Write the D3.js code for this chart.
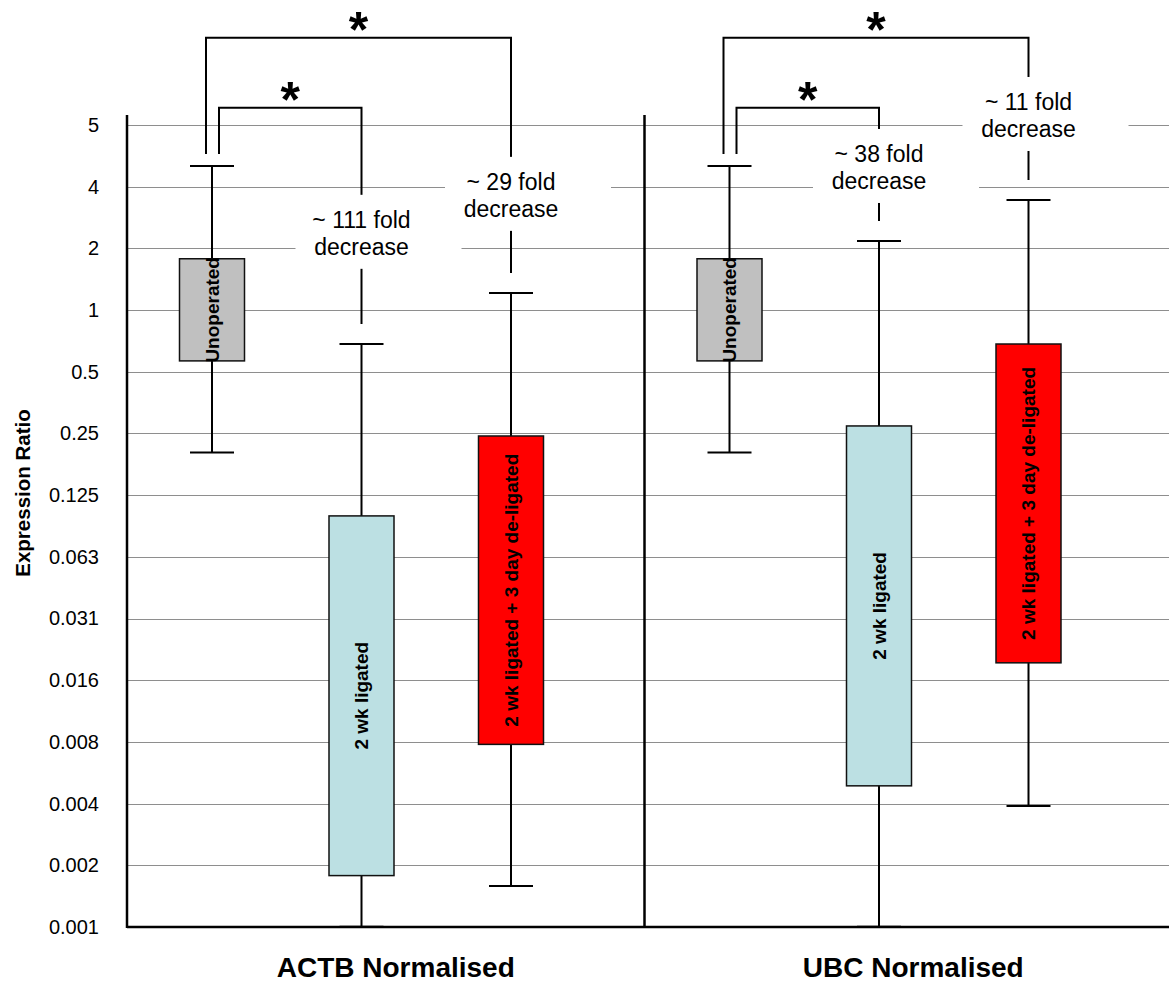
<!DOCTYPE html>
<html lang="en">
<head>
<meta charset="UTF-8">
<title>Expression Ratio - ACTB / UBC normalised</title>
<style>
body { margin: 0; background: #fff; }
svg text { font-family: "Liberation Sans", Arial, Helvetica, sans-serif; }
.grid line { stroke: #8e8e8e; stroke-width: 1; }
</style>
</head>
<body>
<svg id="chart"></svg>
<script src="https://cdn.jsdelivr.net/npm/d3@7/dist/d3.min.js"></script>
<script>
var panels = ["ACTB Normalised", "UBC Normalised"];
var groups = ["Unoperated", "2 wk ligated", "2 wk ligated + 3 day de-ligated"];
var groupColors = ["#c0c0c0", "#bce0e3", "#ff0000"];

// whisker ends and box edges
var actbMin  = [0.202, 0.00098, 0.00155];
var actbLow  = [0.565, 0.00174, 0.0076];
var actbHigh = [1.78, 0.099, 0.243];
var actbMax  = [5.05, 0.683, 1.21];

var ubcMin  = [0.202, 0.00098, 0.0038];
var ubcLow  = [0.565, 0.00477, 0.019];
var ubcHigh = [1.78, 0.272, 0.683];
var ubcMax  = [5.05, 2.17, 3.44];

// y ticks sit on powers of two, labelled as in the original
var tickLabels = ["0.001", "0.002", "0.004", "0.008", "0.016", "0.031", "0.063",
                  "0.125", "0.25", "0.5", "1", "2", "4", "5"];
var tickValues = d3.range(-10, 4).map(function(e) { return Math.pow(2, e); });

// significance brackets: Unoperated vs group
var compTarget = [1, 2];
var compLevel = [9.7, 21.3];
var foldLabels = [["~ 111 fold", "~ 29 fold"], ["~ 38 fold", "~ 11 fold"]];
var foldAt = [[2.52, 3.86], [5.28, 9.47]];

var width = 1169, height = 983;
var plotLeft = 127, plotRight = 1169, plotTop = 125, plotBottom = 927;

var svg = d3.select("#chart")
  .attr("width", width)
  .attr("height", height);

var y = d3.scaleLog().base(2)
  .domain([tickValues[0], tickValues[tickValues.length - 1]])
  .range([plotBottom, plotTop]);

var xPanel = d3.scaleBand()
  .domain(panels)
  .range([plotLeft, 1162]);

var xGroup = d3.scalePoint()
  .domain(groups)
  .range([85, 384]);

var boxWidth = 65, capWidth = 44;

function gx(p, g) { return xPanel(p) + xGroup(g); }

var panelData = [
  { min: actbMin, low: actbLow, high: actbHigh, max: actbMax },
  { min: ubcMin, low: ubcLow, high: ubcHigh, max: ubcMax }
];

// grid
svg.append("g")
  .attr("class", "grid")
  .selectAll("line")
  .data(tickValues.slice(1))
  .enter().append("line")
  .attr("x1", plotLeft)
  .attr("x2", plotRight)
  .attr("y1", function(d) { return Math.round(y(d)) + 0.5; })
  .attr("y2", function(d) { return Math.round(y(d)) + 0.5; });

// y axis labels
var yAxis = d3.axisLeft(y)
  .tickValues(tickValues)
  .tickFormat(function(d, i) { return tickLabels[i]; })
  .tickSize(0)
  .tickPadding(28);

var yg = svg.append("g")
  .attr("transform", "translate(" + plotLeft + ",0)")
  .call(yAxis);
yg.select(".domain").remove();
yg.selectAll("text")
  .attr("font-size", 20)
  .attr("font-family", "Liberation Sans, Arial, sans-serif")
  .attr("fill", "#000");

svg.append("text")
  .attr("transform", "translate(30," + 493 + ") rotate(-90)")
  .attr("text-anchor", "middle")
  .attr("font-size", 20.5)
  .attr("font-weight", "bold")
  .text("Expression Ratio");

// boxes
panels.forEach(function(p, pi) {
  var pd = panelData[pi];
  var g = svg.append("g");
  var rows = groups.map(function(name, gi) {
    return { name: name, gi: gi, min: pd.min[gi], low: pd.low[gi], high: pd.high[gi], max: pd.max[gi] };
  });

  g.selectAll(".whisker")
    .data(rows).enter().append("line")
    .attr("class", "whisker")
    .attr("x1", function(d) { return gx(p, d.name); })
    .attr("x2", function(d) { return gx(p, d.name); })
    .attr("y1", function(d) { return y(d.min); })
    .attr("y2", function(d) { return y(d.max); })
    .attr("stroke", "#000").attr("stroke-width", 2);

  ["min", "max"].forEach(function(k) {
    g.selectAll(".cap-" + k)
      .data(rows).enter().append("line")
      .attr("x1", function(d) { return gx(p, d.name) - capWidth / 2; })
      .attr("x2", function(d) { return gx(p, d.name) + capWidth / 2; })
      .attr("y1", function(d) { return y(d[k]); })
      .attr("y2", function(d) { return y(d[k]); })
      .attr("stroke", "#000").attr("stroke-width", 2);
  });

  g.selectAll("rect")
    .data(rows).enter().append("rect")
    .attr("x", function(d) { return gx(p, d.name) - boxWidth / 2; })
    .attr("width", boxWidth)
    .attr("y", function(d) { return y(d.high); })
    .attr("height", function(d) { return y(d.low) - y(d.high); })
    .attr("fill", function(d) { return groupColors[d.gi]; })
    .attr("stroke", "#111").attr("stroke-width", 1.5);

  g.selectAll(".boxlabel")
    .data(rows).enter().append("text")
    .attr("class", "boxlabel")
    .attr("transform", function(d) {
      return "translate(" + gx(p, d.name) + "," + (y(d.low) + y(d.high)) / 2 + ") rotate(-90)";
    })
    .attr("text-anchor", "middle")
    .attr("dy", "0.35em")
    .attr("font-size", 19)
    .attr("font-weight", "bold")
    .text(function(d) { return d.name; });

  // brackets + fold labels
  var x0 = gx(p, groups[0]);
  var legBottom = y(pd.max[0]) - 12;
  compTarget.forEach(function(t, ci) {
    var xl = ci === 0 ? x0 + 7 : x0 - 6;
    var xr = gx(p, groups[t]);
    var top = y(compLevel[ci]);
    var rightBottom = y(pd.max[t]) - 20;
    g.append("path")
      .attr("d", "M" + xl + "," + legBottom + "V" + top + "H" + xr + "V" + rightBottom)
      .attr("fill", "none").attr("stroke", "#000").attr("stroke-width", 2);

    g.append("text")
      .attr("x", (xl + xr) / 2)
      .attr("y", top - 19 + 0.57 * 50)
      .attr("text-anchor", "middle")
      .attr("font-size", 50)
      .attr("font-weight", "bold")
      .text("*");
  });

  compTarget.forEach(function(t, ci) {
    var tx = gx(p, groups[t]);
    var base = y(foldAt[pi][ci]);
    g.append("rect")
      .attr("x", tx - 66)
      .attr("y", base - 33)
      .attr("width", 166)
      .attr("height", 74)
      .attr("fill", "#fff");
    g.append("text")
      .attr("x", tx).attr("y", base)
      .attr("text-anchor", "middle")
      .attr("font-size", 23)
      .text(foldLabels[pi][ci]);
    g.append("text")
      .attr("x", tx).attr("y", base + 27)
      .attr("text-anchor", "middle")
      .attr("font-size", 23)
      .text("decrease");
  });

  svg.append("text")
    .attr("x", xPanel(p) + xPanel.bandwidth() / 2 + 10)
    .attr("y", 977)
    .attr("text-anchor", "middle")
    .attr("font-size", 28)
    .attr("font-weight", "bold")
    .text(p);
});

// axis frame
svg.append("line")
  .attr("x1", plotLeft).attr("x2", plotRight)
  .attr("y1", plotBottom).attr("y2", plotBottom)
  .attr("stroke", "#000").attr("stroke-width", 2.5);

svg.selectAll(".vaxis")
  .data(panels).enter().append("line")
  .attr("class", "vaxis")
  .attr("x1", function(d) { return xPanel(d); })
  .attr("x2", function(d) { return xPanel(d); })
  .attr("y1", 115).attr("y2", plotBottom + 1)
  .attr("stroke", "#000").attr("stroke-width", 2.5);
</script>
</body>
</html>
